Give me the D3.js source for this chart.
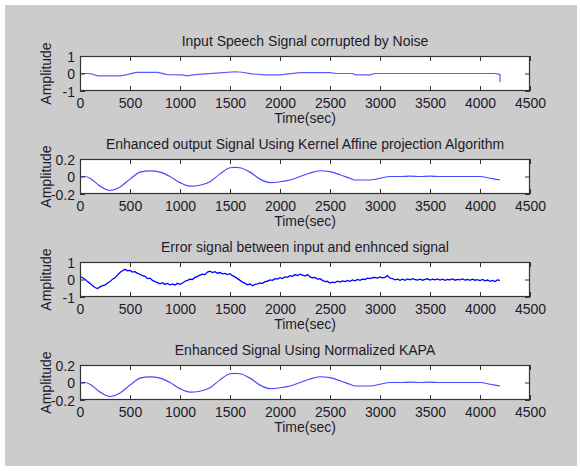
<!DOCTYPE html>
<html>
<head>
<meta charset="utf-8">
<script src="https://cdn.jsdelivr.net/npm/d3@7"></script>
<style>
  html, body { margin: 0; padding: 0; background: #ffffff; }
  svg { display: block; font-family: Arial, "Liberation Sans", sans-serif; }
</style>
</head>
<body>
<svg id="chart" width="580" height="471"></svg>
<script>
// ---------------- DATA ----------------
const titles = [
  "Input Speech Signal corrupted by Noise",
  "Enhanced output Signal Using Kernel Affine projection Algorithm",
  "Error signal between input and enhnced signal",
  "Enhanced Signal Using Normalized KAPA"
];
const xLabel = "Time(sec)";
const yLabel = "Amplitude";
const xTicks = [0, 500, 1000, 1500, 2000, 2500, 3000, 3500, 4000, 4500];
const yTicksWide = [-1, 0, 1];
const yTicksNarrow = [-0.2, 0, 0.2];

// Input signal (time, amplitude)
const inputTime = [0, 100, 180, 400, 470, 560, 780, 870, 1020, 1070, 1150, 1400, 1550, 1620, 1720, 1850, 2000, 2200, 2500, 2560, 2720, 2760, 2900, 2950, 4150, 4200, 4200];
const inputAmp  = [0, 0, -0.13, -0.13, -0.06, 0.06, 0.06, -0.06, -0.08, -0.13, -0.06, 0.04, 0.1, 0.07, -0.02, -0.08, -0.08, 0.05, 0.05, 0.0, 0.0, -0.08, -0.08, 0.0, 0.0, -0.06, -0.5];

// Enhanced output (KAPA)
const enhTime = [0, 50, 100, 200, 300, 400, 500, 600, 700, 800, 900, 1000, 1100, 1200, 1300, 1400, 1500, 1550, 1600, 1700, 1800, 1900, 2000, 2100, 2200, 2300, 2400, 2500, 2600, 2700, 2750, 2800, 2900, 3000, 3100, 3200, 3300, 3400, 3500, 3600, 3700, 3800, 3900, 4000, 4100, 4200];
const enhAmp  = [0, 0, -0.02, -0.11, -0.16, -0.12, -0.03, 0.05, 0.065, 0.05, 0.0, -0.07, -0.11, -0.10, -0.06, 0.03, 0.10, 0.105, 0.10, 0.05, -0.03, -0.07, -0.06, -0.04, 0.0, 0.04, 0.066, 0.055, 0.02, -0.02, -0.04, -0.04, -0.04, -0.02, 0.0, 0.0, 0.005, 0.0, 0.005, 0.0, 0.0, 0.0, 0.0, 0.0, -0.02, -0.04];

// Error signal, sampled every 25 s
const errStep = 25;
const errAmp = [
  0.18, 0.1, 0.02, -0.12, -0.22, -0.35, -0.46, -0.52,
  -0.42, -0.35, -0.32, -0.2, -0.12, 0.02, 0.1, 0.25,
  0.4, 0.5, 0.58, 0.5, 0.52, 0.42, 0.45, 0.35,
  0.3, 0.22, 0.18, 0.05, 0.08, -0.05, -0.12, -0.18,
  -0.25, -0.18, -0.28, -0.22, -0.3, -0.25, -0.32, -0.22,
  -0.28, -0.2, -0.1, -0.05, 0.02, 0.0, 0.12, 0.18,
  0.25, 0.3, 0.28, 0.42, 0.48, 0.4, 0.45, 0.36,
  0.4, 0.32, 0.35, 0.28, 0.33, 0.22, 0.15, 0.05,
  -0.05, -0.15, -0.22, -0.3, -0.26, -0.36, -0.28, -0.25,
  -0.2, -0.22, -0.12, -0.1, -0.02, -0.05, 0.05, 0.02,
  0.1, 0.05, 0.15, 0.12, 0.22, 0.18, 0.28, 0.22,
  0.3, 0.25, 0.2, 0.28, 0.15, 0.1, 0.12, 0.02,
  0.05, -0.05, -0.12, -0.1, -0.2, -0.15, -0.18, -0.1,
  -0.15, -0.08, -0.12, -0.05, -0.1, -0.02, -0.08, 0.0,
  -0.05, 0.02, 0.0, 0.08, 0.05, 0.1, 0.12, 0.08,
  0.15, 0.1, 0.12, 0.22, 0.08, 0.05, -0.02, 0.02,
  -0.05, 0.02, -0.05, 0.03, -0.02, 0.05, 0.0, -0.03,
  0.02, -0.04, 0.01, 0.04, -0.03, 0.02, -0.02, 0.03,
  -0.03, 0.02, -0.05, 0.0, -0.02, 0.03, -0.04, 0.01,
  -0.02, 0.03, -0.03, 0.0, -0.05, 0.02, -0.04, -0.01,
  -0.06, 0.0, -0.08, -0.03, -0.1, -0.05, -0.12, -0.02,
  -0.05
];

// Normalized KAPA enhanced signal
const nkapaTime = [0, 50, 100, 200, 300, 400, 500, 600, 700, 800, 900, 1000, 1100, 1200, 1300, 1400, 1500, 1550, 1600, 1700, 1800, 1900, 2000, 2100, 2200, 2300, 2400, 2500, 2600, 2700, 2750, 2800, 2900, 3000, 3100, 3200, 3300, 3400, 3500, 3600, 3700, 3800, 3900, 4000, 4100, 4200];
const nkapaAmp  = [0, 0, -0.02, -0.11, -0.16, -0.12, -0.03, 0.05, 0.065, 0.05, 0.0, -0.07, -0.11, -0.10, -0.06, 0.03, 0.10, 0.105, 0.10, 0.05, -0.03, -0.07, -0.06, -0.04, 0.0, 0.04, 0.066, 0.055, 0.02, -0.02, -0.04, -0.04, -0.04, -0.02, 0.0, 0.0, 0.005, 0.0, 0.005, 0.0, 0.0, 0.0, 0.0, 0.0, -0.02, -0.04];

// ---------------- DRAW ----------------
const svg = d3.select("#chart");
svg.append("rect").attr("x", 5).attr("y", 5).attr("width", 572).attr("height", 461).attr("fill", "#cccccc");

const panels = [
  { title: titles[0], t: inputTime, v: inputAmp, yDom: [-1, 1], yTicks: yTicksWide, color: "#5a5aff", width: 1.2, curve: d3.curveLinear },
  { title: titles[1], t: enhTime, v: enhAmp, yDom: [-0.2, 0.2], yTicks: yTicksNarrow, color: "#4848ff", width: 1.2, curve: d3.curveMonotoneX },
  { title: titles[2], t: errAmp.map((_, i) => i * errStep), v: errAmp, yDom: [-1, 1], yTicks: yTicksWide, color: "#0000ff", width: 1.3, curve: d3.curveLinear },
  { title: titles[3], t: nkapaTime, v: nkapaAmp, yDom: [-0.2, 0.2], yTicks: yTicksNarrow, color: "#4848ff", width: 1.2, curve: d3.curveMonotoneX }
];

const left = 80, right = 530, tops = [56, 159, 262, 365], h = 35;
const x = d3.scaleLinear().domain([0, 4500]).range([left, right]);
const textColor = "#1e1a2a";
const axisColor = "#333333";
const fs = 14;

panels.forEach((p, i) => {
  const top = tops[i], bottom = top + h;
  const y = d3.scaleLinear().domain(p.yDom).range([bottom, top]);
  const g = svg.append("g");

  g.append("rect").attr("x", left).attr("y", top).attr("width", right - left).attr("height", h).attr("fill", "#ffffff");

  const line = d3.line().x((d, k) => x(p.t[k])).y(d => y(d)).curve(p.curve);
  g.append("path").datum(p.v).attr("d", line).attr("fill", "none").attr("stroke", p.color).attr("stroke-width", p.width);

  const fmt = d => String(d);
  const bx = g.append("g").attr("transform", `translate(0,${bottom})`)
    .call(d3.axisBottom(x).tickValues(xTicks).tickSizeInner(-5).tickSizeOuter(0).tickPadding(6).tickFormat(fmt));
  const tx = g.append("g").attr("transform", `translate(0,${top})`)
    .call(d3.axisTop(x).tickValues(xTicks).tickSizeInner(-5).tickSizeOuter(0).tickFormat(""));
  const ly = g.append("g").attr("transform", `translate(${left},0)`)
    .call(d3.axisLeft(y).tickValues(p.yTicks).tickSizeInner(-5).tickSizeOuter(0).tickPadding(5).tickFormat(fmt));
  const ry = g.append("g").attr("transform", `translate(${right},0)`)
    .call(d3.axisRight(y).tickValues(p.yTicks).tickSizeInner(-5).tickSizeOuter(0).tickFormat(""));
  [bx, tx, ly, ry].forEach(a => {
    a.select(".domain").remove();
    a.selectAll("line").attr("stroke", axisColor);
    a.selectAll("text").attr("fill", textColor).style("font-size", fs + "px").style("font-family", "Arial, 'Liberation Sans', sans-serif");
  });
  bx.selectAll("text").attr("dy", null).attr("y", 17).attr("dominant-baseline", "auto");
  ly.selectAll("text").attr("dy", "0.36em");

  g.append("rect").attr("x", left + 0.5).attr("y", top + 0.5).attr("width", right - left - 1).attr("height", h - 1)
    .attr("fill", "none").attr("stroke", axisColor).attr("stroke-width", 1.2);

  g.append("text").attr("x", (left + right) / 2).attr("y", top - 10).attr("text-anchor", "middle")
    .attr("fill", textColor).style("font-size", fs + "px").text(p.title);
  g.append("text").attr("x", (left + right) / 2).attr("y", bottom + 32).attr("text-anchor", "middle")
    .attr("fill", textColor).style("font-size", fs + "px").text(xLabel);
  g.append("text").attr("transform", `translate(51,${(top + bottom) / 2}) rotate(-90)`).attr("text-anchor", "middle")
    .attr("fill", textColor).style("font-size", fs + "px").text(yLabel);
});
</script>
</body>
</html>
